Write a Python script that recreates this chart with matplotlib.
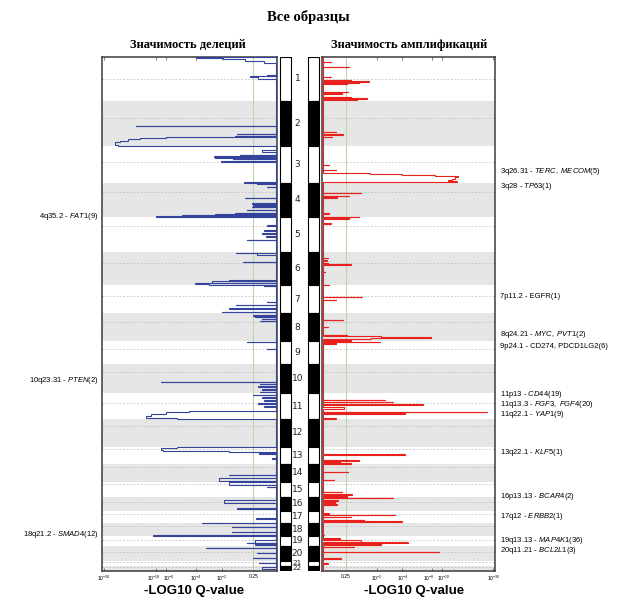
import matplotlib
matplotlib.use('Agg')
import matplotlib.pyplot as plt
import numpy as np
from matplotlib.transforms import blended_transform_factory, ScaledTranslation

plt.rcParams['font.family'] = ['Liberation Sans', 'DejaVu Sans']
plt.rcParams['mathtext.fontset'] = 'custom'
plt.rcParams['mathtext.rm'] = 'Liberation Sans'
plt.rcParams['mathtext.it'] = 'Liberation Sans:italic'
plt.rcParams['mathtext.bf'] = 'Liberation Sans:bold'

# ---------------- data ----------------
chrom_names = [str(i) for i in range(1, 23)]
chrom_len = [43.7, 45, 37, 34.6, 35, 32.7, 28.3, 28, 23, 29, 25.7, 27.7,
             17.3, 17.7, 15, 14, 12, 13.3, 9.7, 15, 5, 5.3]
centromere_frac = [0.51, 0.38, 0.44, 0.26, 0.24, 0.33, 0.39, 0.30, 0.33, 0.26,
                   0.39, 0.25, 0.15, 0.15, 0.17, 0.40, 0.30, 0.22, 0.45, 0.44,
                   0.27, 0.27]

# deletion profile: segment start (genome units), length, -log10 q
del_start = [0.0, 0.8, 2.0, 3.5, 18.0, 19.0, 20.0,
             68.5, 76.8, 78.8, 80.2, 81.2, 82.4, 83.8, 85.4, 87.6,
             93.0, 97.8, 99.2, 100.2, 101.8, 104.4,
             125.3, 126.0, 129.5, 140.8, 146.0, 148.0, 149.5, 152.8, 155.5, 156.8, 157.8, 158.8, 159.6,
             168.0, 173.0, 176.0, 179.0, 182.8,
             195.5, 196.0, 204.5, 222.8, 224.0, 225.8, 227.0,
             228.5, 244.5, 247.8, 251.0, 254.7,
             258.0, 259.5, 261.5, 263.5,
             284.5, 291.8,
             324.5, 326.5, 329.0, 332.0, 334.5,
             337.8, 340.0, 343.0, 346.0, 349.0, 353.5, 354.7, 356.7, 358.9, 361.2,
             389.5, 390.3, 391.1, 392.9, 394.4, 396.0, 401.0,
             417.8, 421.0,
             425.0, 429.5,
             443.0, 451.0,
             461.0,
             465.9, 469.5, 474.5, 478.2,
             483.0, 485.8, 486.5,
             490.5, 495.8, 500.8,
             505.8, 510.0]
del_len = [0.8, 1.2, 1.5, 2.0, 0.8, 1.0, 1.5,
           0.5, 0.5, 0.5, 1.0, 1.2, 1.4, 1.6, 2.2, 1.0,
           2.0, 0.6, 0.6, 1.0, 0.6, 0.6,
           0.5, 0.8, 0.5, 0.5, 0.6, 0.6, 0.5, 0.6, 0.8, 0.8, 0.8, 0.8, 0.7,
           0.6, 0.5, 0.5, 0.5, 0.5,
           0.5, 2.0, 0.5, 0.8, 1.5, 1.2, 1.0,
           0.5, 0.5, 0.5, 0.5, 0.6,
           0.6, 0.6, 0.5, 0.5,
           0.5, 0.5,
           0.5, 0.5, 0.5, 0.5, 0.5,
           0.5, 0.5, 0.5, 0.5, 0.5, 1.2, 2.0, 2.2, 2.3, 0.8,
           0.8, 0.8, 1.8, 1.5, 0.8, 0.6, 0.5,
           0.5, 3.0,
           3.0, 0.5,
           3.0, 0.6,
           0.5,
           0.5, 0.5, 0.5, 0.6,
           2.5, 0.5, 1.5,
           0.6, 0.5, 0.5,
           0.5, 1.5]
del_q = [4.0, 1.9, 0.9, 0.3, 0.22, 0.70, 0.45,
         15.4, 1.2, 1.3, 8.0, 14.0, 18.0, 21.5, 23.7, 22.3,
         0.34, 1.1, 2.45, 2.4, 1.4, 2.05,
         0.92, 0.48, 0.22, 0.88, 0.64, 0.6, 0.64, 0.8, 1.28, 2.39, 5.5, 9.97, 2.3,
         0.22, 0.3, 0.35, 0.25, 0.8,
         1.27, 0.5, 0.95, 1.57, 2.6, 4.1, 2.86,
         0.3, 0.22, 1.27, 1.58, 1.95,
         0.6, 0.55, 0.35, 0.4,
         0.8, 0.22,
         9.0, 0.4, 0.45, 0.35, 0.4,
         0.6, 0.35, 0.3, 0.45, 0.3, 4.7, 8.0, 11.1, 12.5, 6.3,
         4.3, 6.2, 9.0, 8.6, 1.58, 0.42, 0.1,
         1.58, 2.15,
         1.58, 0.22,
         1.86, 1.2,
         0.53,
         3.38, 1.42, 1.42, 10.7,
         0.54, 0.8, 0.54,
         3.05, 0.48, 0.6,
         0.42, 0.34]

# amplification profile
amp_start = [4.8, 9.5, 19.5, 22.5, 24.2, 25.0, 26.0, 34.5, 36.3, 39.5, 40.5, 42.2,
             74.5, 77.0, 79.5,
             107.8, 112.8, 115.5, 116.2, 117.2, 118.2, 119.2, 120.4, 121.6, 123.0, 124.2,
             135.5, 138.8, 139.5, 156.0, 159.5, 161.0,
             166.0,
             200.5, 203.0, 205.5, 207.0, 214.5, 227.8,
             239.5, 242.8,
             262.8, 269.5, 277.8, 279.0, 280.2, 280.8, 282.8,
             284.5, 286.0,
             342.8, 344.5, 347.0, 349.5, 354.5, 355.5, 361.0,
             397.0, 402.5, 404.2, 406.0,
             414.5, 422.8,
             434.5, 436.7, 439.2,
             440.5, 443.0, 445.0, 447.0,
             456.0, 457.8, 459.8, 462.8, 464.2,
             477.8,
             481.0, 483.0, 485.0, 486.5, 489.5,
             494.5, 501.0,
             506.0]
amp_len = [0.5, 0.5, 0.5, 1.5, 0.6, 0.8, 1.0, 0.5, 0.5, 0.6, 1.5, 0.8,
           0.5, 0.6, 0.5,
           0.5, 0.5, 0.5, 1.0, 1.0, 1.0, 1.2, 1.2, 1.4, 1.2, 0.8,
           0.5, 0.5, 1.0, 0.5, 0.6, 0.6,
           0.5,
           0.5, 0.5, 0.5, 0.6, 0.5, 0.5,
           0.5, 0.5,
           0.5, 0.5, 0.6, 1.2, 0.6, 1.0, 1.0,
           0.5, 0.5,
           0.5, 0.5, 0.6, 2.0, 0.6, 1.0, 0.5,
           0.5, 1.2, 1.0, 0.6,
           0.5, 0.5,
           0.5, 0.8, 0.4,
           0.5, 0.5, 0.5, 0.5,
           0.5, 0.5, 0.6, 0.5, 1.0,
           0.5,
           0.5, 1.6, 0.6, 1.0, 0.5,
           0.5, 0.5,
           0.5]
amp_q = [0.2, 0.72, 0.2, 0.8, 1.56, 1.1, 0.64, 0.67, 0.48, 0.8, 1.44, 1.0,
         0.33, 0.51, 0.22,
         0.16, 0.33, 0.51, 1.6, 4.0, 8.6, 14.4, 13.5, 12.5, 11.5, 13.8,
         1.17, 0.72, 0.35, 0.16, 1.1, 0.72,
         0.2,
         0.12, 0.1, 0.12, 0.78, 0.06, 0.16,
         1.24, 0.33,
         0.51, 0.12, 0.64, 2.26, 7.9, 1.68, 0.8,
         2.2, 0.33,
         2.55, 3.18, 6.5, 0.54, 26.0, 4.3, 0.33,
         4.25, 1.1, 0.42, 0.8,
         0.67, 0.28,
         0.48, 0.84, 0.64,
         3.18, 0.37, 0.3, 0.35,
         0.16, 3.3, 0.8, 1.32, 3.92,
         0.05,
         0.42, 1.2, 4.6, 2.26, 0.9,
         9.4, 0.46,
         0.12]

# peak annotations
del_band = ['4q35.2', '10q23.31', '18q21.2']
del_gene = ['FAT1', 'PTEN', 'SMAD4']
del_count = ['(9)', '(2)', '(12)']
del_italic = [True, True, True]
del_label_pos = [159, 324, 478]

amp_band = ['3q26.31', '3q28', '7p11.2', '8q24.21', '9p24.1', '11p13', '11q13.3',
            '11q22.1', '13q22.1', '16p13.13', '17q12', '19q13.13', '20q11.21']
amp_gene = ['TERC, MECOM', 'TP63', 'EGFR', 'MYC, PVT1', 'CD274, PDCD1LG2', 'CD44',
            'FGF3, FGF4', 'YAP1', 'KLF5', 'BCAR4', 'ERBB2', 'MAP4K1', 'BCL2L1']
amp_count = ['(5)', '(1)', '(1)', '(2)', '(6)', '(19)', '(20)', '(9)', '(1)', '(2)',
             '(1)', '(36)', '(3)']
amp_italic = [True, True, False, True, False, True, True, True, True, True, True,
              True, True]
amp_label_pos = [114.5, 129, 240, 277, 289.5, 337, 347, 357, 396, 440, 459, 483, 494]

tick_q = [0.25, 1e-2, 1e-4, 1e-8, 1e-10, 1e-30]
tick_labels = ['0.25', r'$10^{-2}$', r'$10^{-4}$', r'$10^{-8}$', r'$10^{-10}$', r'$10^{-30}$']
q_threshold = 0.25

# ---------------- figure ----------------
W, H = 623, 615
fig = plt.figure(figsize=(W / 100, H / 100), dpi=100)


def px_axes(x0, y0, x1, y1):
    return fig.add_axes([x0 / W, 1 - y1 / H, (x1 - x0) / W, (y1 - y0) / H])


def fpx(x, y):
    return x / W, 1 - y / H


axL = px_axes(102, 57, 277, 571)
axR = px_axes(322, 57, 495, 571)
axB = px_axes(278, 57, 322, 571)

bounds = np.concatenate([[0], np.cumsum(chrom_len)])
total = bounds[-1]


def fwd(v):
    return np.log10(1 + np.clip(v, 0, None))


def inv(y):
    return 10 ** np.asarray(y) - 1


def profile(starts, lens, vals, base):
    xs, ys = [base], [0.0]
    cur = 0.0
    for s, l, v in sorted(zip(starts, lens, vals)):
        s = max(s, cur)
        if s > cur + 1e-6:
            xs += [base, base]
            ys += [cur, s]
        xs += [v, v]
        ys += [s, s + l]
        cur = s + l
    xs += [base, base]
    ys += [cur, total]
    return xs, ys


for ax, starts, lens, vals, color, xlim, sgn in [
        (axL, del_start, del_len, del_q, '#34449c', (31, 0), -1),
        (axR, amp_start, amp_len, amp_q, '#e8211d', (0, 31), 1)]:
    ax.set_xscale('function', functions=(fwd, inv))
    ax.set_xlim(*xlim)
    ax.set_ylim(total, 0)
    for i in range(22):
        if (i + 1) % 2 == 0:
            ax.axhspan(bounds[i], bounds[i + 1], color='#e6e6e6', lw=0, zorder=0)
        cen = bounds[i] + centromere_frac[i] * chrom_len[i]
        ax.axhline(cen, color='#b8b8b8', lw=0.5, ls=(0, (2.5, 2.5)), zorder=1)
    ax.axvline(-np.log10(q_threshold), color='#b9d5aa', lw=0.8, zorder=2)
    xs, ys = profile(starts, lens, vals, 0.03)
    ax.plot(xs, ys, color=color, lw=0.8, zorder=3, solid_joinstyle='miter')
    ax.set_xticks(-np.log10(tick_q))
    ax.set_xticklabels(tick_labels)
    ax.set_yticks([])
    ax.tick_params(axis='x', direction='in', length=2, width=0.5, top=True,
                   bottom=True, labelsize=3.6, pad=2, colors='#555555',
                   labelcolor='black')
    # separate the two crowded labels (10^-8 and 10^-10) slightly
    lbls = ax.get_xticklabels()
    for idx, shift in [(3, -2.5), (4, 2.5)]:
        lbls[idx].set_transform(lbls[idx].get_transform() +
                                ScaledTranslation(sgn * shift / 100, 0, fig.dpi_scale_trans))
    for sp in ax.spines.values():
        sp.set_linewidth(1.1)
        sp.set_color('#3a3a3a')

# chromosome bars
axB.set_xlim(278, 322)
axB.set_ylim(total, 0)
axB.axis('off')
for i in range(22):
    c = 'black' if (i + 1) % 2 == 0 else 'white'
    for left, width in [(280, 10.7), (308.3, 11)]:
        axB.barh(bounds[i] + chrom_len[i] / 2, width, height=chrom_len[i], left=left,
                 color=c, edgecolor='black', linewidth=0.8)
    fs = 6.5 if chrom_len[i] > 7 else 5.2
    axB.text(297.5, bounds[i] + chrom_len[i] / 2, chrom_names[i], ha='center',
             va='center', fontsize=fs, family='DejaVu Sans', color='#222222')

# peak labels
def label(band, gene, count, italic):
    if italic:
        g = gene.replace(' ', r'\ ')
        return band + ' - ' + r'$\mathit{' + g + '}$' + count
    return band + ' - ' + gene + count


tL = blended_transform_factory(axL.transAxes, axL.transData)
for b, g, c, it, p in zip(del_band, del_gene, del_count, del_italic, del_label_pos):
    axL.text(-0.02, p, label(b, g, c, it), transform=tL, ha='right', va='center',
             fontsize=5.5, clip_on=False)
tR = blended_transform_factory(axR.transAxes, axR.transData)
for b, g, c, it, p in zip(amp_band, amp_gene, amp_count, amp_italic, amp_label_pos):
    axR.text(1.03, p, label(b, g, c, it), transform=tR, ha='left', va='center',
             fontsize=5.5, clip_on=False)

# titles
fig.text(*fpx(308, 17), 'Все образцы', ha='center', va='center', fontsize=10.5,
         fontweight='bold', family='Liberation Serif')
fig.text(*fpx(188, 45), 'Значимость делеций', ha='center', va='center', fontsize=9,
         fontweight='bold', family='Liberation Serif')
fig.text(*fpx(409, 45), 'Значимость амплификаций', ha='center', va='center',
         fontsize=9, fontweight='bold', family='Liberation Serif')
fig.text(*fpx(194, 591), '-LOG10 Q-value', ha='center', va='center', fontsize=9.5,
         fontweight='bold')
fig.text(*fpx(414, 591), '-LOG10 Q-value', ha='center', va='center', fontsize=9.5,
         fontweight='bold')

fig.savefig('out.png', dpi=100)
